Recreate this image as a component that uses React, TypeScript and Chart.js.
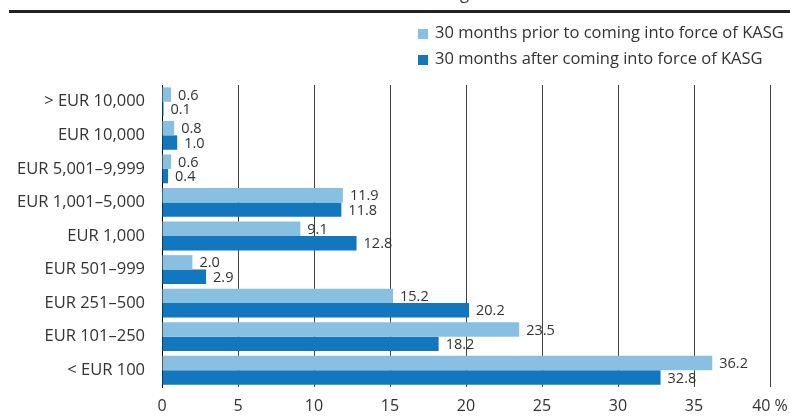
import React, { useEffect, useRef } from "react";
import { Chart, registerables } from "chart.js";

Chart.register(...registerables);

const categories = [
  "> EUR 10,000",
  "EUR 10,000",
  "EUR 5,001–9,999",
  "EUR 1,001–5,000",
  "EUR 1,000",
  "EUR 501–999",
  "EUR 251–500",
  "EUR 101–250",
  "< EUR 100",
];
const priorValues = [0.6, 0.8, 0.6, 11.9, 9.1, 2.0, 15.2, 23.5, 36.2];
const afterValues = [0.1, 1.0, 0.4, 11.8, 12.8, 2.9, 20.2, 18.2, 32.8];
const seriesLabels = [
  "30 months prior to coming into force of KASG",
  "30 months after coming into force of KASG",
];
const xTicks = [0, 5, 10, 15, 20, 25, 30, 35, 40];

const FONT = "'Open Sans', 'Noto Sans', sans-serif";
const TEXT = "#333333";
const LIGHT = "#89c0e2";
const DARK = "#1277be";

const decorPlugin = {
  id: "decor",
  afterDatasetsDraw(chart: any) {
    const ctx = chart.ctx;
    ctx.save();
    ctx.font = `14.5px ${FONT}`;
    ctx.fillStyle = TEXT;
    ctx.textAlign = "left";
    ctx.textBaseline = "middle";
    chart.data.datasets.forEach((ds: any, di: number) => {
      const meta = chart.getDatasetMeta(di);
      meta.data.forEach((el: any, i: number) => {
        ctx.fillText(Number(ds.data[i]).toFixed(1), el.x + 7, el.y + 1);
      });
    });
    ctx.restore();
  },
  afterDraw(chart: any) {
    const ctx = chart.ctx;
    ctx.save();
    // top rule
    ctx.fillStyle = "#222222";
    ctx.fillRect(9, 10, 781, 3);
    // cut-off title text
    ctx.fillStyle = TEXT;
    ctx.font = `16.5px ${FONT}`;
    ctx.textAlign = "left";
    ctx.textBaseline = "alphabetic";
    ctx.fillText("g", 460, -1);
    // legend
    const colors = [LIGHT, DARK];
    const ys = [33, 59];
    ctx.textBaseline = "middle";
    seriesLabels.forEach((lab, i) => {
      ctx.fillStyle = colors[i];
      ctx.fillRect(418, ys[i] - 4, 10, 10);
      ctx.fillStyle = TEXT;
      ctx.fillText(lab, 435, ys[i]);
    });
    ctx.restore();
  },
};

export default function App() {
  const ref = useRef<HTMLCanvasElement | null>(null);
  useEffect(() => {
    document.body.style.margin = "0";
    const chart = new Chart(ref.current as HTMLCanvasElement, {
      type: "bar",
      data: {
        labels: categories,
        datasets: [
          {
            label: seriesLabels[0],
            data: priorValues,
            backgroundColor: LIGHT,
            barPercentage: 1,
            categoryPercentage: 0.86,
          },
          {
            label: seriesLabels[1],
            data: afterValues,
            backgroundColor: DARK,
            barPercentage: 1,
            categoryPercentage: 0.86,
          },
        ],
      },
      options: {
        indexAxis: "y",
        animation: false,
        responsive: false,
        maintainAspectRatio: false,
        layout: { padding: { top: 85, right: 0, left: 0, bottom: 0 } },
        plugins: {
          legend: { display: false },
          tooltip: { enabled: false },
          title: { display: false },
        },
        scales: {
          x: {
            min: 0,
            max: 40,
            afterBuildTicks(scale: any) {
              scale.ticks = xTicks.map((v) => ({ value: v }));
            },
            afterFit(scale: any) {
              scale.height = 30;
              scale.paddingRight = 20;
              scale.paddingLeft = 0;
            },
            ticks: {
              color: TEXT,
              font: { family: FONT, size: 16 },
              padding: 10,
              maxRotation: 0,
              callback: (v: any) => (Number(v) === 40 ? "40 %" : String(v)),
            },
            grid: { color: "#444444", lineWidth: 1, drawTicks: false },
            border: { display: false },
          },
          y: {
            afterFit(scale: any) {
              scale.width = 162;
            },
            ticks: {
              color: TEXT,
              font: { family: FONT, size: 16.5 },
              padding: 17,
            },
            grid: { display: false, drawTicks: false },
            border: { display: true, color: "#000000", width: 1 },
          },
        },
      },
      plugins: [decorPlugin],
    });
    return () => chart.destroy();
  }, []);
  return <canvas ref={ref} width={790} height={417} style={{ display: "block" }} />;
}
